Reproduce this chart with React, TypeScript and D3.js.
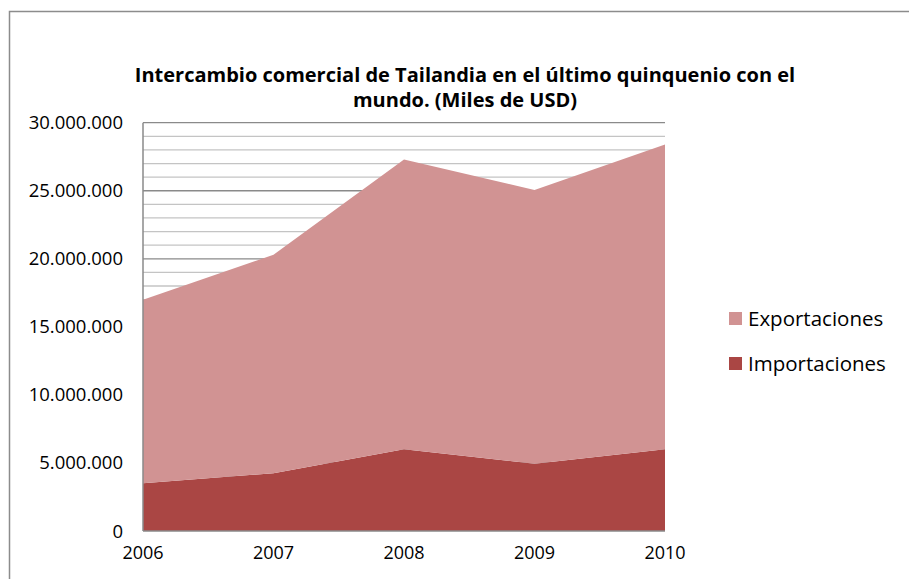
import React from "react";
import * as d3 from "d3";

const years = ["2006", "2007", "2008", "2009", "2010"];
const importaciones = [3500000, 4250000, 6000000, 4950000, 6000000];
const exportaciones = [13500000, 16050000, 21300000, 20100000, 22400000];
const yTicks = [0, 5000000, 10000000, 15000000, 20000000, 25000000, 30000000];
const seriesNames = ["Importaciones", "Exportaciones"];
const colors: Record<string, string> = { Importaciones: "#aa4644", Exportaciones: "#d19393" };

const W = 909, H = 579;
const left = 143, right = 665, top = 122.7, bottom = 531;
const font = "'Open Sans', sans-serif";

export default function App() {
  const x = d3.scalePoint<string>().domain(years).range([left, right]);
  const y = d3.scaleLinear().domain([0, 30000000]).range([bottom, top]);
  const rows = years.map((yr, i) => ({ year: yr, Importaciones: importaciones[i], Exportaciones: exportaciones[i] }));
  const stack = d3.stack<any>().keys(seriesNames)(rows);
  const area = d3.area<any>().x((d) => x(d.data.year) as number).y0((d) => y(d[0])).y1((d) => y(d[1]));
  const minor = d3.range(1000000, 30000001, 1000000);
  const fmt = (v: number) => (v === 0 ? "0" : d3.format(",")(v).replace(/,/g, "."));
  return (
    <svg width={W} height={H} style={{ position: "absolute", left: 0, top: 0, background: "#fff" }}>
      <rect x={9.5} y={11.5} width={W + 20} height={H + 20} fill="#fff" stroke="#8c8c8c" strokeWidth={1.5} />
      <text x={465} y={82} textAnchor="middle" fontFamily={font} fontWeight="bold" fontSize={20} fill="#000">
        Intercambio comercial de Tailandia en el último quinquenio con el
      </text>
      <text x={465} y={107} textAnchor="middle" fontFamily={font} fontWeight="bold" fontSize={20} fill="#000">
        mundo. (Miles de USD)
      </text>
      {minor.map((v) => (
        <line key={v} x1={left} x2={right} y1={y(v)} y2={y(v)} stroke={v % 5000000 === 0 ? "#8a8a8a" : "#c4c4c4"} strokeWidth={1.3} />
      ))}
      {stack.map((s) => (
        <path key={s.key} d={area(s) as string} fill={colors[s.key]} />
      ))}
      <line x1={left} x2={left} y1={top} y2={bottom} stroke="#8a8a8a" strokeWidth={1.5} />
      <line x1={left} x2={right} y1={bottom} y2={bottom} stroke="#8a8a8a" strokeWidth={1.5} />
      {yTicks.map((v) => (
        <text key={v} x={123} y={y(v) + 6.5} textAnchor="end" fontFamily={font} fontSize={18.5} fill="#000">
          {fmt(v)}
        </text>
      ))}
      {years.map((yr) => (
        <text key={yr} x={x(yr)} y={559} textAnchor="middle" fontFamily={font} fontSize={18} fill="#000">
          {yr}
        </text>
      ))}
      {["Exportaciones", "Importaciones"].map((n, i) => (
        <g key={n}>
          <rect x={729} y={312 + i * 45} width={13} height={13} fill={colors[n]} />
          <text x={748} y={325.5 + i * 45} fontFamily={font} fontSize={20.5} fill="#000">
            {n}
          </text>
        </g>
      ))}
    </svg>
  );
}
